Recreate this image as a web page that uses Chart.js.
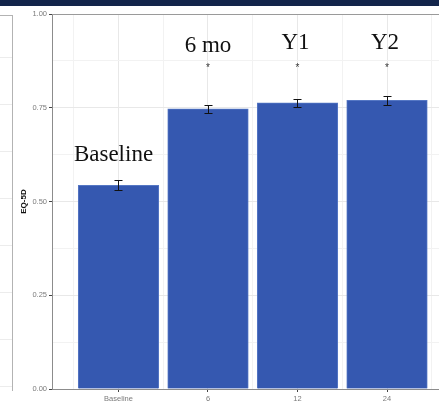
<!DOCTYPE html>
<html>
<head>
<meta charset="utf-8">
<script src="https://cdn.jsdelivr.net/npm/chart.js@4.4.1/dist/chart.umd.min.js"></script>
<style>
  html, body { margin: 0; padding: 0; background: #ffffff; overflow: hidden; }
  #wrap { position: relative; width: 439px; height: 405px; }
  #topbar { position: absolute; left: 0; top: 0; width: 439px; height: 6px; background: #13254b; }
  #leftpanel { position: absolute; left: 0; top: 15px; width: 12px; height: 375px;
    border-top: 1px solid #b3b3b3; border-right: 1px solid #b3b3b3;
    background: repeating-linear-gradient(to bottom, transparent 0px, transparent 41px, #ececec 41px, #ececec 42px, transparent 42px, transparent 47px); }
  canvas { position: absolute; left: 0; top: 0; }
</style>
</head>
<body>
<div id="wrap">
  <canvas id="c" width="439" height="405"></canvas>
  <div id="topbar"></div>
  <div id="leftpanel"></div>
</div>
<script>
// ---- data ----
const categories = ['Baseline', '6', '12', '24'];
const eq5dMean = [0.543, 0.747, 0.763, 0.770];
const eq5dErr = [0.013, 0.011, 0.011, 0.0115];
const significant = [false, true, true, true];
const timepointLabels = ['Baseline', '6 mo', 'Y1', 'Y2'];
const yTicks = [0, 0.25, 0.5, 0.75, 1.0];

const barData = eq5dMean.map((v, i) => ({ x: i, y: v }));

const annotations = {
  id: 'annotations',
  afterDatasetsDraw(chart) {
    const ctx = chart.ctx;
    const xs = chart.scales.x, ys = chart.scales.y;
    const area = chart.chartArea;
    ctx.save();
    // top panel border
    ctx.strokeStyle = '#9a9a9a';
    ctx.lineWidth = 1;
    ctx.beginPath();
    ctx.moveTo(area.left, area.top + 0.5);
    ctx.lineTo(area.right, area.top + 0.5);
    ctx.stroke();
    // error bars
    ctx.strokeStyle = '#111111';
    ctx.lineWidth = 1;
    eq5dMean.forEach((v, i) => {
      const x = Math.round(xs.getPixelForValue(i)) + 0.5;
      const yt = Math.round(ys.getPixelForValue(v + eq5dErr[i])) + 0.5;
      const yb = Math.round(ys.getPixelForValue(v - eq5dErr[i])) + 0.5;
      ctx.beginPath();
      ctx.moveTo(x, yt); ctx.lineTo(x, yb);
      ctx.moveTo(x - 4, yt); ctx.lineTo(x + 4, yt);
      ctx.moveTo(x - 4, yb); ctx.lineTo(x + 4, yb);
      ctx.stroke();
    });
    // significance stars
    ctx.fillStyle = '#333333';
    ctx.font = '10px "Liberation Sans", Arial, sans-serif';
    ctx.textAlign = 'center';
    ctx.textBaseline = 'middle';
    significant.forEach((s, i) => {
      if (!s) return;
      ctx.fillText('*', xs.getPixelForValue(i), ys.getPixelForValue(0.86) + 2);
    });
    // timepoint labels
    ctx.fillStyle = '#111111';
    ctx.font = '23px "Liberation Serif", "Times New Roman", serif';
    ctx.textBaseline = 'alphabetic';
    const labelY = [0.608, 0.9, 0.908, 0.908];
    const labelDx = [-5, 0, -2, -2];
    timepointLabels.forEach((t, i) => {
      ctx.fillText(t, xs.getPixelForValue(i) + labelDx[i], ys.getPixelForValue(labelY[i]));
    });
    ctx.restore();
  }
};

new Chart(document.getElementById('c'), {
  type: 'bar',
  data: {
    datasets: [{
      data: barData,
      backgroundColor: '#3558b0',
      borderColor: '#5577c4',
      borderWidth: { top: 1, left: 1, right: 1, bottom: 0 },
      barThickness: 'flex',
      barPercentage: 0.9,
      categoryPercentage: 1.0
    }]
  },
  options: {
    responsive: false,
    animation: false,
    devicePixelRatio: 1,
    layout: { padding: { top: 14, left: 0, right: 0, bottom: 0 } },
    plugins: { legend: { display: false }, tooltip: { enabled: false } },
    scales: {
      x: {
        type: 'linear',
        offset: false,
        min: -0.743,
        max: 3.581,
        afterBuildTicks(scale) {
          scale.ticks = [-0.5, 0, 0.5, 1, 1.5, 2, 2.5, 3, 3.5].map(v => ({ value: v }));
        },
        afterFit(scale) { scale.height = 16; },
        ticks: {
          autoSkip: false,
          maxRotation: 0,
          padding: 2,
          color: '#7a7a7a',
          font: { family: '"Liberation Sans", Arial, sans-serif', size: 7.5 },
          callback: (v) => Number.isInteger(v) ? categories[v] : ''
        },
        grid: {
          offset: false,
          drawTicks: true,
          tickLength: 3,
          color: (c) => (c.tick && Number.isInteger(c.tick.value)) ? '#e8e8e8' : '#f2f2f2',
          tickColor: (c) => (c.tick && Number.isInteger(c.tick.value)) ? '#444444' : 'rgba(0,0,0,0)'
        },
        border: { display: true, color: '#8c8c8c', width: 1 }
      },
      y: {
        min: 0,
        max: 1,
        afterBuildTicks(scale) {
          const t = [];
          yTicks.forEach((v, i) => {
            t.push({ value: v });
            if (i < yTicks.length - 1) t.push({ value: (v + yTicks[i + 1]) / 2 });
          });
          scale.ticks = t;
        },
        afterFit(scale) { scale.width = 52; },
        ticks: {
          autoSkip: false,
          padding: 2,
          color: '#7a7a7a',
          font: { family: '"Liberation Sans", Arial, sans-serif', size: 7.5 },
          callback: (v) => yTicks.includes(v) ? v.toFixed(2) : ''
        },
        grid: {
          drawTicks: true,
          tickLength: 3,
          color: (c) => (c.tick && yTicks.includes(c.tick.value)) ? '#e8e8e8' : '#f2f2f2',
          tickColor: (c) => (c.tick && yTicks.includes(c.tick.value)) ? '#444444' : 'rgba(0,0,0,0)'
        },
        border: { display: true, color: '#8c8c8c', width: 1 },
        title: {
          display: true,
          text: 'EQ-5D',
          color: '#111111',
          padding: 19,
          font: { family: '"Liberation Sans", Arial, sans-serif', size: 8, weight: 'bold' }
        }
      }
    }
  },
  plugins: [annotations]
});
</script>
</body>
</html>
